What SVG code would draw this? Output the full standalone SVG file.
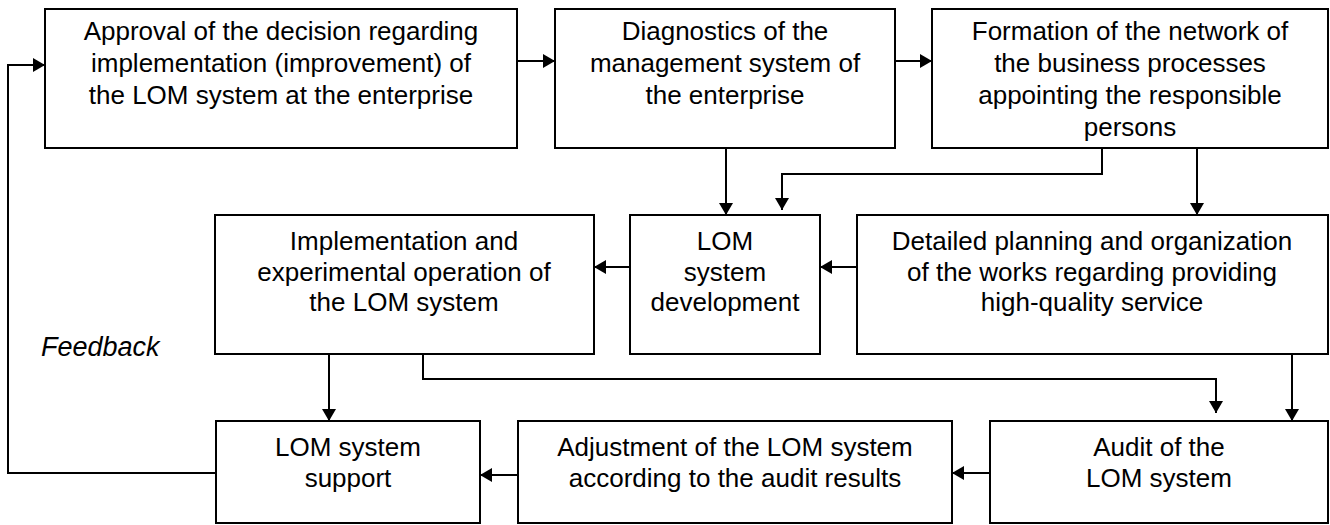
<svg xmlns="http://www.w3.org/2000/svg" width="1330" height="525" viewBox="0 0 1330 525">
<style>
.box{fill:#fff;stroke:#000;stroke-width:2}
.t{font-family:"Liberation Sans",Arial,sans-serif;font-size:26px;fill:#000;text-anchor:middle}
.fb{font-family:"Liberation Sans",Arial,sans-serif;font-size:27px;font-style:italic;fill:#000}
.c{fill:none;stroke:#000;stroke-width:2}
.a{marker-end:url(#ah)}
</style>
<defs>
<marker id="ah" markerUnits="userSpaceOnUse" viewBox="0 0 12 14" refX="12" refY="7" markerWidth="12" markerHeight="14" orient="auto">
<path d="M0,0 L12,7 L0,14 z" fill="#000"/>
</marker>
</defs>
<rect width="1330" height="525" fill="#fff"/>
<g id="connectors">
<path class="c a" d="M216,473 H8 V65 H45"/>
<path class="c a" d="M517,61 H555"/>
<path class="c a" d="M895,61 H932"/>
<path class="c a" d="M726,148 V215"/>
<path class="c a" d="M1102,148 V174 H782 V210"/>
<path class="c a" d="M1197,148 V215"/>
<path class="c a" d="M857,267 H820"/>
<path class="c a" d="M630,267 H594"/>
<path class="c a" d="M329,354 V421"/>
<path class="c a" d="M423,354 V379 H1216 V413"/>
<path class="c a" d="M1292,354 V421"/>
<path class="c a" d="M990,473 H952"/>
<path class="c a" d="M518,475 H480"/>
</g>
<g id="n1"><rect class="box" x="45" y="9" width="472" height="139"/>
<text class="t" x="281" y="40">Approval of the decision regarding</text>
<text class="t" x="281" y="72">implementation (improvement) of</text>
<text class="t" x="281" y="104">the LOM system at the enterprise</text></g>
<g id="n2"><rect class="box" x="555" y="9" width="340" height="139"/>
<text class="t" x="725" y="40">Diagnostics of the</text>
<text class="t" x="725" y="72">management system of</text>
<text class="t" x="725" y="104">the enterprise</text></g>
<g id="n3"><rect class="box" x="932" y="9" width="396" height="139"/>
<text class="t" x="1130" y="40">Formation of the network of</text>
<text class="t" x="1130" y="72">the business processes</text>
<text class="t" x="1130" y="104">appointing the responsible</text>
<text class="t" x="1130" y="136">persons</text></g>
<g id="n4"><rect class="box" x="215" y="215" width="379" height="139"/>
<text class="t" x="404" y="250">Implementation and</text>
<text class="t" x="404" y="281">experimental operation of</text>
<text class="t" x="404" y="311">the LOM system</text></g>
<g id="n5"><rect class="box" x="630" y="215" width="190" height="139"/>
<text class="t" x="725" y="250">LOM</text>
<text class="t" x="725" y="281">system</text>
<text class="t" x="725" y="311">development</text></g>
<g id="n6"><rect class="box" x="857" y="215" width="471" height="139"/>
<text class="t" x="1092" y="250">Detailed planning and organization</text>
<text class="t" x="1092" y="281">of the works regarding providing</text>
<text class="t" x="1092" y="311">high-quality service</text></g>
<g id="n7"><rect class="box" x="216" y="421" width="264" height="102"/>
<text class="t" x="348" y="456">LOM system</text>
<text class="t" x="348" y="487">support</text></g>
<g id="n8"><rect class="box" x="518" y="421" width="434" height="102"/>
<text class="t" x="735" y="456">Adjustment of the LOM system</text>
<text class="t" x="735" y="487">according to the audit results</text></g>
<g id="n9"><rect class="box" x="990" y="421" width="338" height="102"/>
<text class="t" x="1159" y="456">Audit of the</text>
<text class="t" x="1159" y="487">LOM system</text></g>
<text class="fb" x="41" y="356">Feedback</text>
</svg>
